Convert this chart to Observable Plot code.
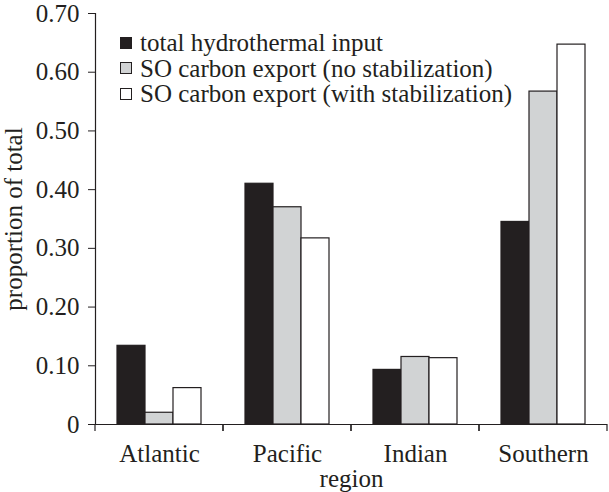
<!DOCTYPE html>
<html>
<head>
<meta charset="utf-8">
<script src="https://cdn.jsdelivr.net/npm/d3@7"></script>
<script src="https://cdn.jsdelivr.net/npm/@observablehq/plot@0.6"></script>
<style>
  html, body { margin: 0; padding: 0; background: #fff; }
  #wrap { position: relative; width: 609px; height: 492px; font-family: "Liberation Serif", serif; color: #231f20; }
  #legend { position: absolute; left: 120px; top: 30px; font-size: 25px; line-height: 25.5px; }
  .row { display: flex; align-items: center; white-space: nowrap; }
  .sw { width: 10px; height: 10px; border: 1px solid #231f20; margin-right: 8px; box-sizing: content-box; }
</style>
</head>
<body>
<div id="wrap"></div>
<script>
const regions = ["Atlantic", "Pacific", "Indian", "Southern"];
const series = [
  "total hydrothermal input",
  "SO carbon export (no stabilization)",
  "SO carbon export (with stabilization)"
];
const hydrothermal = [0.134, 0.410, 0.093, 0.345];
const noStabilization = [0.020, 0.370, 0.115, 0.567];
const withStabilization = [0.062, 0.317, 0.113, 0.647];
const seriesColors = ["#231f20", "#d1d3d4", "#ffffff"];
const yTicks = [0, 0.1, 0.2, 0.3, 0.4, 0.5, 0.6, 0.7];

const valuesBySeries = [hydrothermal, noStabilization, withStabilization];
const data = [];
regions.forEach((r, i) => {
  series.forEach((s, j) => data.push({region: r, series: s, value: valuesBySeries[j][i]}));
});

// boundary ticks at the edges of each region band (drawn in every facet)
function bandTicks(index, scales, values, dimensions) {
  const g = d3.create("svg:g").attr("stroke", "#231f20").attr("stroke-width", 1.2);
  const y0 = scales.y(0);
  const left = dimensions.marginLeft;
  const right = dimensions.width - dimensions.marginRight;
  for (const x of [left, right]) {
    g.append("line").attr("x1", x).attr("x2", x).attr("y1", y0).attr("y2", y0 + 7);
  }
  return g.node();
}

const chart = Plot.plot({
  width: 609,
  height: 492,
  marginLeft: 93,
  marginRight: 1,
  marginTop: 13,
  marginBottom: 68,
  style: {fontFamily: "Liberation Serif", fontSize: "25px", color: "#231f20", background: "#fff", overflow: "visible"},
  fx: {domain: regions, padding: 0},
  x: {domain: series, axis: null, paddingInner: 0, paddingOuter: 0.763},
  y: {domain: [0, 0.7]},
  color: {domain: series, range: seriesColors},
  marks: [
    Plot.barY(data, {fx: "region", x: "series", y: "value", fill: "series", stroke: "#231f20", strokeWidth: 1.2}),
    Plot.ruleY([0], {stroke: "#231f20", strokeWidth: 1.2}),
    Plot.frame({anchor: "left", facet: "super", stroke: "#231f20", strokeWidth: 1.2}),
    bandTicks,
    Plot.axisY({
      ticks: yTicks,
      tickFormat: d => d === 0 ? "0" : d.toFixed(2),
      tickSize: 7,
      tickPadding: 9,
      label: "proportion of total",
      labelAnchor: "center",
      labelArrow: "none",
      labelOffset: 91
    }),
    Plot.axisFx({
      anchor: "bottom",
      tickSize: 0,
      tickPadding: 20,
      label: "region",
      labelAnchor: "center",
      labelArrow: "none",
      labelOffset: 62
    })
  ]
});

const wrap = document.getElementById("wrap");
wrap.appendChild(chart);

const legend = document.createElement("div");
legend.id = "legend";
series.forEach((s, j) => {
  const row = document.createElement("div");
  row.className = "row";
  const sw = document.createElement("span");
  sw.className = "sw";
  sw.style.background = seriesColors[j];
  const t = document.createElement("span");
  t.textContent = s;
  row.appendChild(sw);
  row.appendChild(t);
  legend.appendChild(row);
});
wrap.appendChild(legend);
</script>
</body>
</html>
